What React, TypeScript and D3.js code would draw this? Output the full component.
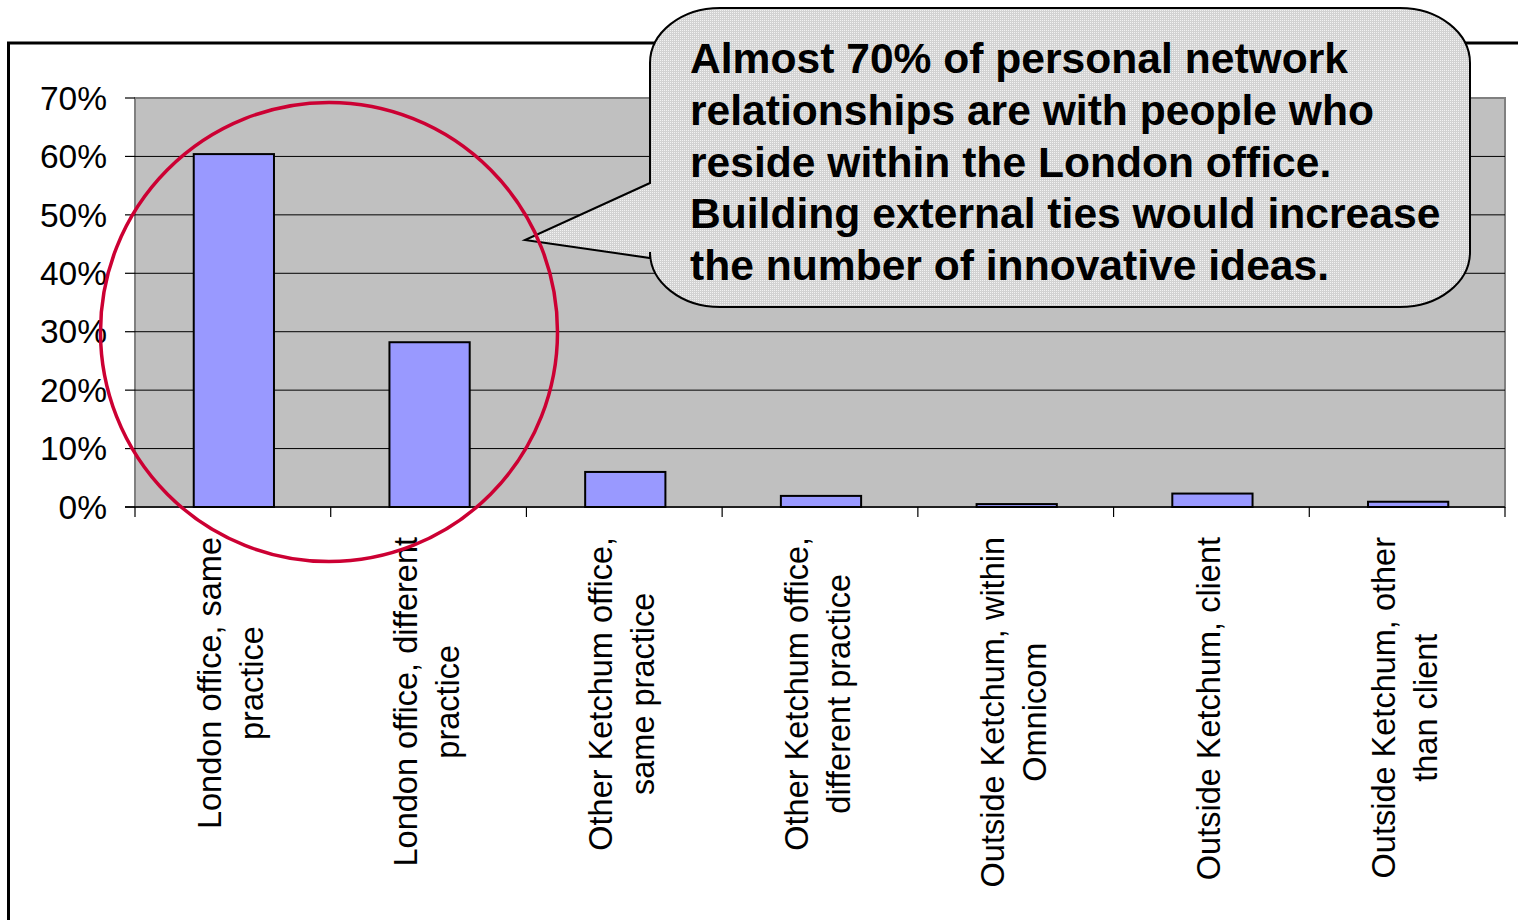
import React from 'react';
import * as d3 from 'd3';

const categories = [
  'London office, same practice',
  'London office, different practice',
  'Other Ketchum office, same practice',
  'Other Ketchum office, different practice',
  'Outside Ketchum, within Omnicom',
  'Outside Ketchum, client',
  'Outside Ketchum, other than client',
];
const labelLines = [
  ['London office, same', 'practice'],
  ['London office, different', 'practice'],
  ['Other Ketchum office,', 'same practice'],
  ['Other Ketchum office,', 'different practice'],
  ['Outside Ketchum, within', 'Omnicom'],
  ['Outside Ketchum, client'],
  ['Outside Ketchum, other', 'than client'],
];
const values = [0.604, 0.282, 0.06, 0.019, 0.005, 0.023, 0.009];
const yTicks = [0, 0.1, 0.2, 0.3, 0.4, 0.5, 0.6, 0.7];
const calloutLines = [
  'Almost 70% of personal network',
  'relationships are with people who',
  'reside within the London office.',
  'Building external ties would increase',
  'the number of innovative ideas.',
];

const FONT = "'Liberation Sans', Arial, sans-serif";

function measure(text: string, font: string): number {
  try {
    const ctx = document.createElement('canvas').getContext('2d');
    if (ctx) {
      ctx.font = font;
      return ctx.measureText(text).width;
    }
  } catch (e) {}
  return text.length * 16;
}

export default function App() {
  const left = 135, right = 1505, top = 98, bottom = 507;
  const x = d3.scaleBand<string>().domain(categories).range([left, right]).paddingInner(0.59).paddingOuter(0.295);
  const step = x.step();
  const y = d3.scaleLinear().domain([0, 0.7]).range([bottom, top]);
  const fmt = d3.format('.0%');

  const L = 650, R = 1470, T = 8, B = 307, rx = 70, ry = 55;
  const callout = `M${L + rx},${T} H${R - rx} A${rx},${ry} 0 0 1 ${R},${T + ry} V${B - ry} A${rx},${ry} 0 0 1 ${R - rx},${B} H${L + rx} A${rx},${ry} 0 0 1 ${L},${B - ry} V258 L525,240 L${L},183 V${T + ry} A${rx},${ry} 0 0 1 ${L + rx},${T} Z`;

  const labelFont = `32.5px ${FONT}`;

  return (
    <svg width={1518} height={920} style={{ position: 'absolute', left: 0, top: 0, background: '#fff' }} fontFamily={FONT}>
      <defs>
        <pattern id="dots" width={2} height={2} patternUnits="userSpaceOnUse">
          <rect width={2} height={2} fill="#d2d2d2" />
          <rect width={1} height={1} fill="#f2f2f2" />
        </pattern>
      </defs>
      {/* outer frame */}
      <rect x={8.5} y={43} width={1700} height={1000} fill="#fff" stroke="#000" strokeWidth={3} />
      {/* plot area */}
      <rect x={left} y={top} width={right - left} height={bottom - top} fill="#c0c0c0" stroke="#808080" strokeWidth={2} />
      {yTicks.filter(t => t > 0 && t < 0.7).map(t => (
        <line key={t} x1={left} x2={right} y1={y(t)} y2={y(t)} stroke="#000" strokeWidth={1} />
      ))}
      {/* y ticks & labels */}
      {yTicks.map(t => (
        <g key={'yt' + t}>
          <line x1={125} x2={left} y1={y(t)} y2={y(t)} stroke="#000" strokeWidth={1.2} />
          <text x={107} y={y(t)} dy="0.35em" textAnchor="end" fontSize={33.5} fill="#000">{fmt(t)}</text>
        </g>
      ))}
      {/* bars */}
      {categories.map((c, i) => (
        <rect key={c} x={(x(c) as number) + 1} y={y(values[i])} width={x.bandwidth()} height={bottom - y(values[i])}
          fill="#9999ff" stroke="#000" strokeWidth={2} />
      ))}
      {/* x axis */}
      <line x1={125} x2={right} y1={bottom} y2={bottom} stroke="#000" strokeWidth={1.5} />
      {d3.range(categories.length + 1).map(i => (
        <line key={'xt' + i} x1={left + i * step} x2={left + i * step} y1={bottom} y2={517} stroke="#000" strokeWidth={1.2} />
      ))}
      {/* category labels */}
      {categories.map((c, i) => {
        const lines = labelLines[i];
        const maxLen = Math.max(...lines.map(l => measure(l, labelFont)));
        const cx = (x(c) as number) + x.bandwidth() / 2;
        const yc = 537 + maxLen / 2;
        const n = lines.length;
        return (
          <g key={'lab' + i} transform={`translate(${cx},${yc}) rotate(-90)`}>
            {lines.map((l, j) => (
              <text key={j} x={0} y={9 + (j - (n - 1) / 2) * 42} textAnchor="middle" fontSize={32.5} fill="#000">{l}</text>
            ))}
          </g>
        );
      })}
      {/* callout */}
      <path d={callout} fill="url(#dots)" stroke="#000" strokeWidth={2} />
      {calloutLines.map((l, i) => (
        <text key={'c' + i} x={690} y={73 + i * 51.8} fontSize={42.6} fontWeight="bold" fill="#000">{l}</text>
      ))}
      {/* red circle */}
      <ellipse cx={329} cy={332} rx={228.5} ry={229.5} fill="none" stroke="#cc0033" strokeWidth={3.5} />
    </svg>
  );
}
